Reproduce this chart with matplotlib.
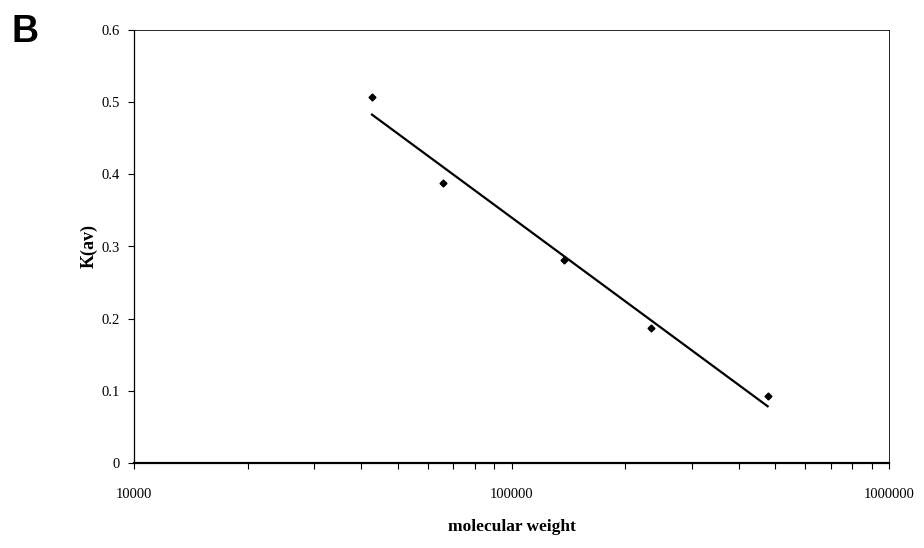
import numpy as np
import matplotlib.pyplot as plt
from matplotlib.ticker import FixedLocator, LogLocator, NullFormatter

mol_weight = [42700, 65900, 137700, 234000, 477000]
k_av = [0.507, 0.388, 0.281, 0.187, 0.093]

x_ticks = [10000, 100000, 1000000]
x_tick_labels = ['10000', '100000', '1000000']
y_ticks = [0, 0.1, 0.2, 0.3, 0.4, 0.5, 0.6]
y_tick_labels = ['0', '0.1', '0.2', '0.3', '0.4', '0.5', '0.6']

plt.rcParams['font.family'] = ['Liberation Serif', 'DejaVu Serif']

fig = plt.figure(figsize=(9.24, 5.48), dpi=100)
ax = fig.add_axes([134 / 924, 1 - 463 / 548, (889 - 134) / 924, (463 - 30) / 548])

# Log-linear fit, drawn over the range of the data
logx = np.log10(mol_weight)
slope, intercept = np.polyfit(logx, k_av, 1)
fit_x = np.array([min(logx), max(logx)])
ax.plot(10 ** fit_x, slope * fit_x + intercept, color='black', lw=1.6)

ax.plot(mol_weight, k_av, linestyle='none', marker='D', markersize=3.5,
        color='black')

ax.set_xscale('log')
ax.set_xlim(10000, 1000000)
ax.set_ylim(0, 0.6)
ax.xaxis.set_major_locator(FixedLocator(x_ticks))
ax.set_xticklabels(x_tick_labels)
ax.xaxis.set_minor_locator(LogLocator(base=10, subs=np.arange(2, 10)))
ax.xaxis.set_minor_formatter(NullFormatter())
ax.set_yticks(y_ticks)
ax.set_yticklabels(y_tick_labels)

ax.tick_params(axis='both', direction='out', length=4, width=0.8,
               labelsize=10.5, pad=5)
ax.tick_params(axis='x', which='minor', direction='out', length=4, width=0.8)
ax.tick_params(axis='x', pad=14)
ax.tick_params(axis='y', pad=6)

for side in ['top', 'right']:
    ax.spines[side].set_linewidth(0.6)
ax.spines['left'].set_linewidth(0.9)
ax.spines['bottom'].set_linewidth(1.6)

ax.set_xlabel('molecular weight', fontsize=12.5, fontweight='bold', labelpad=13)
ax.set_ylabel('K(av)', fontsize=13, fontweight='bold', labelpad=3)

fig.text(12 / 924, 1 - 42 / 548, 'B', fontsize=27, fontweight='bold',
         family=['Liberation Sans', 'DejaVu Sans'], va='baseline')

fig.savefig('out.png', dpi=100)
